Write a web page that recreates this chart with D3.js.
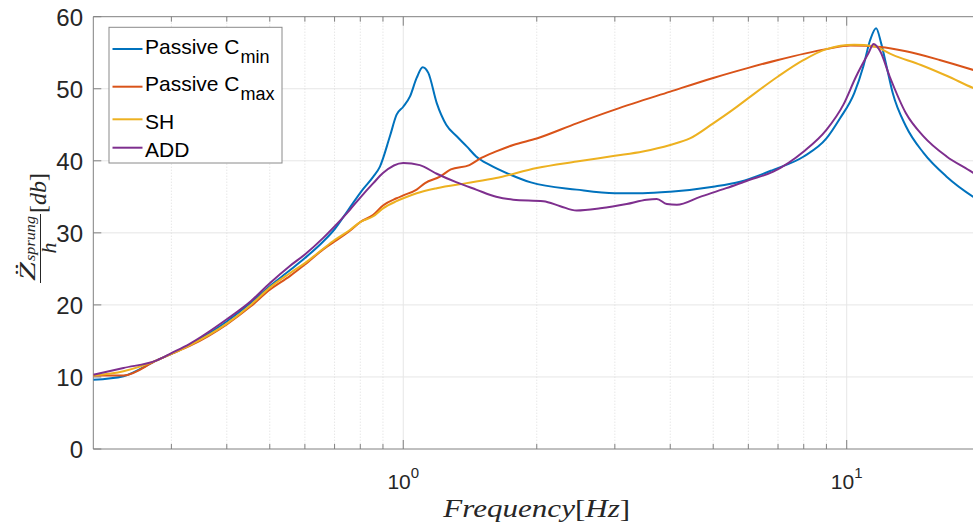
<!DOCTYPE html>
<html><head><meta charset="utf-8">
<script src="https://cdn.jsdelivr.net/npm/d3@7"></script>
<style>
html,body{margin:0;padding:0;background:#fff;}
svg{display:block;}
</style></head>
<body>
<svg id="chart" width="973" height="525"></svg>
<script>
// ---------- DATA ----------
const seriesNames = ["Passive C", "Passive C", "SH", "ADD"];
const seriesSubs = ["min", "max", "", ""];
const seriesColors = ["#0072BD", "#D95319", "#EDB120", "#7E2F8E"];

const freqCmin = [0.2,0.234,0.278,0.3,0.33,0.4,0.453,0.5,0.555,0.6,0.66,0.7,0.75,0.81,0.856,0.886,0.933,0.966,1.0,1.035,1.072,1.106,1.139,1.19,1.25,1.32,1.39,1.46,1.57,1.74,1.94,2.46,3.0,3.47,4.0,5.0,5.75,6.83,8,9,9.66,10.4,10.9,11.3,11.65,11.96,12.3,12.7,13.6,14.9,16.8,19.3,20];
const valCmin  = [9.6,10.1,12.3,13.2,14.5,17.7,20.3,22.6,24.8,26.5,28.8,30.5,33.1,36.0,37.8,39.2,43.4,46.4,47.5,48.9,51.5,53.0,52.2,48.0,45.0,43.4,42.0,40.6,39.4,38.1,37.0,36.0,35.5,35.5,35.7,36.4,37.1,38.75,40.6,43.1,45.9,49.4,53.1,56.8,58.4,56.3,53.1,49.4,44.8,41.1,37.8,35.0,34.4];

const freqCmax = [0.2,0.234,0.278,0.3,0.33,0.4,0.453,0.5,0.555,0.6,0.66,0.7,0.758,0.8,0.856,0.9,0.966,1.0,1.072,1.12,1.21,1.28,1.41,1.5,1.62,1.77,2.0,2.46,3,4,5,6,7,9,10.2,11.9,13.6,16.2,19.3,20];
const valCmax  = [10.2,10.2,12.3,13.2,14.3,17.3,19.8,22.1,24.0,25.6,27.7,28.8,30.3,31.5,32.5,33.8,34.8,35.2,36.0,36.9,37.8,38.8,39.4,40.4,41.3,42.2,43.1,45.2,47.1,49.6,51.5,52.9,54.0,55.5,56.0,55.8,55.2,54.0,52.6,52.3];

const freqSH = [0.2,0.234,0.278,0.3,0.33,0.4,0.453,0.5,0.555,0.6,0.66,0.7,0.758,0.8,0.856,0.9,0.966,1.0,1.072,1.19,1.39,1.62,2.0,2.46,3,3.47,4,4.43,5,5.54,6,7,8,9,10.4,11.5,12.7,14.7,16.8,19.3,20];
const valSH  = [10.2,10.8,12.3,13.2,14.4,17.4,20.0,22.4,24.4,25.8,27.8,29.0,30.4,31.5,32.3,33.4,34.4,34.8,35.5,36.2,36.9,37.6,39.0,39.9,40.7,41.3,42.2,43.1,45.2,47.1,48.7,51.7,54.0,55.5,56.1,55.9,54.7,53.3,51.8,50.1,49.7];

const freqADD = [0.2,0.234,0.278,0.3,0.33,0.4,0.453,0.5,0.555,0.6,0.66,0.7,0.758,0.8,0.856,0.9,1.0,1.09,1.19,1.32,1.46,1.62,1.77,2.07,2.26,2.46,2.78,3.19,3.54,3.73,3.93,4.14,4.67,5.35,6,6.83,8,9,9.83,10.5,11.2,11.5,11.9,12.5,13.6,14.9,16.8,19.3,20];
const valADD  = [10.3,11.25,12.3,13.3,14.6,18.0,20.5,23.0,25.4,27.0,29.3,30.9,33.2,34.9,36.9,38.3,39.7,39.4,38.2,37.0,36.0,35.0,34.6,34.4,33.7,33.1,33.4,34.0,34.6,34.7,34.0,33.9,35.0,36.2,37.3,38.5,41.3,44.3,47.8,51.7,54.95,56.2,55.2,51.7,46.6,43.4,40.6,38.3,37.6];

const yTicks = [0,10,20,30,40,50,60];
const xMajorTicks = [1,10];
const xTickBase = ["10","10"];
const xTickExp = ["0","1"];
const xMinorTicks = [0.3,0.4,0.5,0.6,0.7,0.8,0.9,2,3,4,5,6,7,8,9,20];

// ---------- LAYOUT ----------
const L = 93.3, R = 980.2, T = 16.7, B = 449;
const svg = d3.select("#chart");
const x = d3.scaleLog().domain([0.2, 20]).range([L, R]);
const y = d3.scaleLinear().domain([0, 60]).range([B, T]);
const axisColor = "#808080", textColor = "#262626";
const sans = "'Liberation Sans', Arial, Helvetica, sans-serif";
const serif = "'Liberation Serif', 'Times New Roman', serif";

svg.append("rect").attr("width",973).attr("height",525).attr("fill","#fff");

// grid
const grid = svg.append("g");
grid.selectAll(".ym").data(yTicks.slice(1,-1)).enter().append("line")
  .attr("x1",L).attr("x2",R).attr("y1",d=>y(d)).attr("y2",d=>y(d))
  .attr("stroke","#e6e6e6").attr("stroke-width",1);
grid.selectAll(".xm").data(xMajorTicks).enter().append("line")
  .attr("x1",d=>x(d)).attr("x2",d=>x(d)).attr("y1",T).attr("y2",B)
  .attr("stroke","#e6e6e6").attr("stroke-width",1);
grid.selectAll(".xn").data(xMinorTicks).enter().append("line")
  .attr("x1",d=>x(d)).attr("x2",d=>x(d)).attr("y1",T).attr("y2",B)
  .attr("stroke","#dcdcdc").attr("stroke-width",1).attr("stroke-dasharray","1,2");

// axes box lines
svg.append("line").attr("x1",L).attr("x2",R).attr("y1",B).attr("y2",B).attr("stroke",axisColor);
svg.append("line").attr("x1",L).attr("x2",R).attr("y1",T).attr("y2",T).attr("stroke",axisColor);
svg.append("line").attr("x1",L).attr("x2",L).attr("y1",T).attr("y2",B).attr("stroke",axisColor);

// ticks
const tk = svg.append("g").attr("stroke",axisColor);
yTicks.forEach(d=>{
  tk.append("line").attr("x1",L).attr("x2",L+8).attr("y1",y(d)).attr("y2",y(d));
});
xMajorTicks.forEach(d=>{
  tk.append("line").attr("x1",x(d)).attr("x2",x(d)).attr("y1",B).attr("y2",B-9);
  tk.append("line").attr("x1",x(d)).attr("x2",x(d)).attr("y1",T).attr("y2",T+9);
});
xMinorTicks.forEach(d=>{
  tk.append("line").attr("x1",x(d)).attr("x2",x(d)).attr("y1",B).attr("y2",B-5);
  tk.append("line").attr("x1",x(d)).attr("x2",x(d)).attr("y1",T).attr("y2",T+5);
});

// y tick labels
svg.append("g").selectAll("text").data(yTicks).enter().append("text")
  .attr("x",83).attr("y",d=>y(d)+9)
  .attr("text-anchor","end").attr("font-family",sans).attr("font-size",24)
  .attr("fill",textColor).text(d=>d);

// x tick labels
xMajorTicks.forEach((d,i)=>{
  const t = svg.append("text").attr("x",x(d)).attr("y",489)
    .attr("text-anchor","middle").attr("font-family",sans).attr("fill",textColor);
  t.append("tspan").attr("font-size",21).text(xTickBase[i]);
  t.append("tspan").attr("font-size",15).attr("dy",-11).text(xTickExp[i]);
});

// x label
const xl = svg.append("text").attr("x",(L+R)/2).attr("y",517)
  .attr("text-anchor","middle").attr("font-family",serif).attr("font-size",26)
  .attr("fill",textColor).attr("textLength",187).attr("lengthAdjust","spacingAndGlyphs");
xl.append("tspan").attr("font-style","italic").text("Frequency");
xl.append("tspan").text("[");
xl.append("tspan").attr("font-style","italic").text("Hz");
xl.append("tspan").text("]");

// y label (rotated)
const yl = svg.append("g").attr("transform","rotate(-90)")
  .attr("font-family",serif).attr("fill",textColor);
yl.append("text").attr("x",-281).attr("y",35).attr("font-size",23).attr("font-style","italic")
  .attr("textLength",19).attr("lengthAdjust","spacingAndGlyphs").text("Z\u0308");
yl.append("text").attr("x",-261).attr("y",35).attr("font-size",15).attr("font-style","italic")
  .attr("textLength",45).attr("lengthAdjust","spacingAndGlyphs").text("sprung");
yl.append("line").attr("x1",-283).attr("x2",-214).attr("y1",40.5).attr("y2",40.5)
  .attr("stroke",textColor).attr("stroke-width",1);
yl.append("text").attr("x",-248).attr("y",56).attr("font-size",22).attr("font-style","italic")
  .attr("text-anchor","middle").text("h");
const db = yl.append("text").attr("x",-213).attr("y",46).attr("font-size",24);
db.append("tspan").text("[");
db.append("tspan").attr("font-style","italic").text("db");
db.append("tspan").text("]");

// lines
const clip = svg.append("clipPath").attr("id","plotclip").append("rect")
  .attr("x",L).attr("y",T).attr("width",R-L).attr("height",B-T);
const line = d3.line().x(d=>x(d[0])).y(d=>y(d[1])).curve(d3.curveMonotoneX);
const series = [
  d3.zip(freqCmin,valCmin), d3.zip(freqCmax,valCmax), d3.zip(freqSH,valSH), d3.zip(freqADD,valADD)
];
const lg = svg.append("g").attr("clip-path","url(#plotclip)");
series.forEach((s,i)=>{
  lg.append("path").datum(s).attr("d",line).attr("fill","none")
    .attr("stroke",seriesColors[i]).attr("stroke-width",2).attr("stroke-linejoin","round");
});

// legend
const leg = svg.append("g");
leg.append("rect").attr("x",109).attr("y",27.3).attr("width",173).attr("height",135.7)
  .attr("fill","#fff").attr("stroke","#8a8a8a").attr("stroke-width",1);
const legLineY = [49, 86.7, 119.3, 147.7];
const legBase = [53.5, 91, 128.5, 156.5];
seriesNames.forEach((n,i)=>{
  leg.append("line").attr("x1",112.5).attr("x2",142.5).attr("y1",legLineY[i]).attr("y2",legLineY[i])
    .attr("stroke",seriesColors[i]).attr("stroke-width",2);
  const t = leg.append("text").attr("x",145).attr("y",legBase[i])
    .attr("font-family",sans).attr("font-size",21).attr("fill","#000");
  t.append("tspan").text(n);
  if (seriesSubs[i]) t.append("tspan").attr("font-size",18).attr("dx",1).attr("dy",9.4).text(seriesSubs[i]);
});
</script>
</body></html>
